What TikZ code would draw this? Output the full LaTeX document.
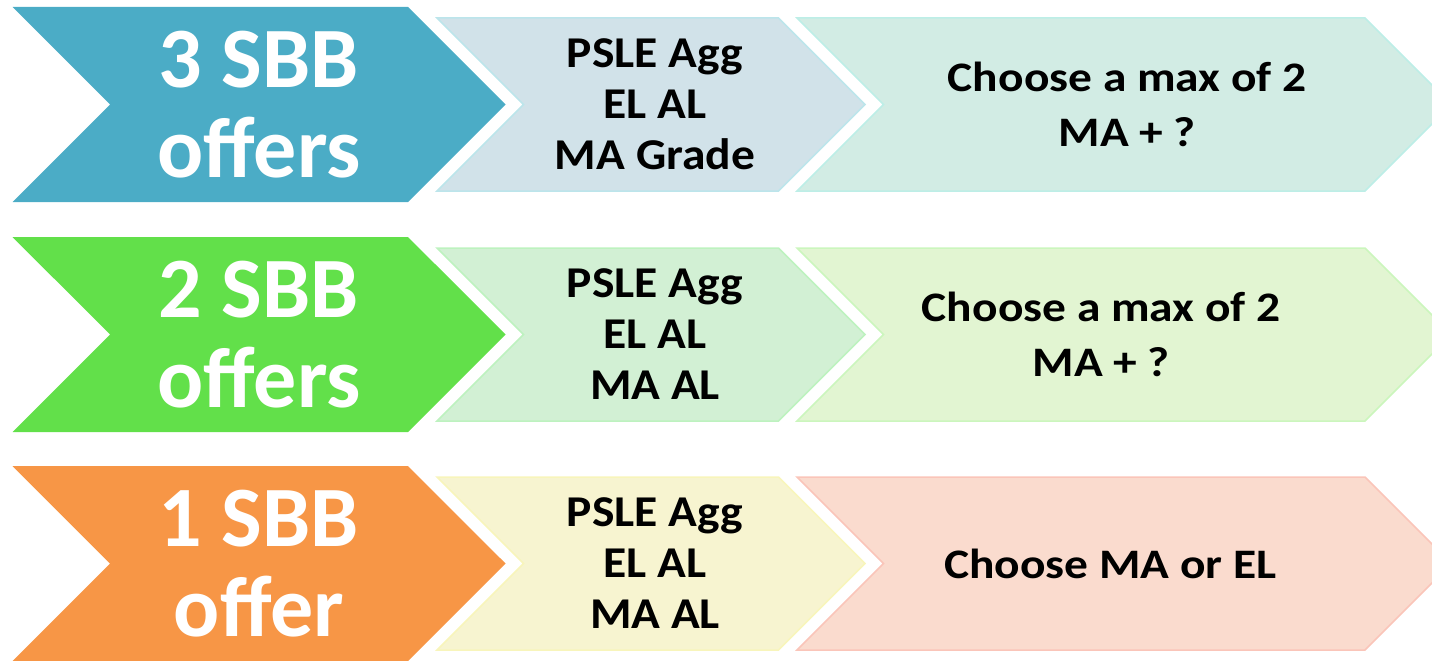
\documentclass[tikz,border=0pt]{standalone}
\usepackage{fontspec}
\setmainfont{Carlito}
\newfontfamily\midfont{Carlito}[FakeStretch=1.08]
\newfontfamily\widefont{Carlito}[FakeStretch=1.13]
\usetikzlibrary{shapes.symbols}
\definecolor{myblue}{RGB}{75, 172, 198}
\definecolor{mygreen}{RGB}{98, 224, 74}
\definecolor{myorange}{RGB}{247, 150, 70}
\definecolor{bluegrey}{RGB}{209, 226, 233}
\definecolor{blueteal}{RGB}{210, 236, 228}
\definecolor{greenmint}{RGB}{210, 240, 212}
\definecolor{greenpale}{RGB}{226, 245, 210}
\definecolor{orangeyel}{RGB}{247, 244, 208}
\definecolor{orangepink}{RGB}{250, 219, 206}
\tikzstyle{big} = [signal, signal from=west, signal to=east,
    signal pointer angle=90, inner sep=0, outer sep=0,
    minimum width=493, minimum height=195, text=white,
    font=\fontsize{86}{90}\selectfont\bfseries, align=center]
\tikzstyle{mid} = [signal, signal from=west, signal to=east,
    signal pointer angle=90, inner sep=0, outer sep=0, line width=1.5,
    minimum width=428, minimum height=173, text=black,
    font=\midfont\fontsize{44}{51}\selectfont\bfseries, align=center]
\tikzstyle{wide} = [signal, signal from=west, signal to=east,
    signal pointer angle=90, inner sep=0, outer sep=0, line width=1.5,
    minimum width=654.5, minimum height=173, text=black,
    font=\widefont\fontsize{42}{55}\selectfont\bfseries, align=center]

\begin{document}
\begin{tikzpicture}[x=1pt, y=-1pt]

\useasboundingbox (0,0) rectangle (1432,661);
\clip (0,0) rectangle (1432,661);



%%% 3 SBB offers
\node[big, fill=myblue] (b3) at (259,104.5) {3 SBB\\offers};
\node[mid, fill=bluegrey, draw=bluegrey!90!cyan] (m3) at (651,104.5)
    {\hspace*{8pt}PSLE Agg\\\hspace*{8pt}EL AL\\\hspace*{8pt}MA Grade};
\node[wide, fill=blueteal, draw=blueteal!90!cyan] (w3) at (1124.25,104.5)
    {\hspace*{6pt}Choose a max of 2\\\hspace*{6pt}MA + ?};


%%% 2 SBB offers
\node[big, fill=mygreen] (b2) at (259,334.5) {2 SBB\\offers};
\node[mid, fill=greenmint, draw=greenmint!90!green] (m2) at (651,334.5)
    {\hspace*{8pt}PSLE Agg\\\hspace*{8pt}EL AL\\\hspace*{8pt}MA AL};
\node[wide, fill=greenpale, draw=greenpale!90!green] (w2) at (1124.25,334.5)
    {\hspace*{-46pt}Choose a max of 2\\\hspace*{-46pt}MA + ?};


%%% 1 SBB offer
\node[big, fill=myorange] (b1) at (259,563.5) {1 SBB\\offer};
\node[mid, fill=orangeyel, draw=orangeyel!90!yellow] (m1) at (651,563.5)
    {\hspace*{8pt}PSLE Agg\\\hspace*{8pt}EL AL\\\hspace*{8pt}MA AL};
\node[wide, fill=orangepink, draw=orangepink!90!red] (w1) at (1124.25,563.5)
    {\hspace*{-28pt}Choose MA or EL};



\end{tikzpicture}
\end{document}
